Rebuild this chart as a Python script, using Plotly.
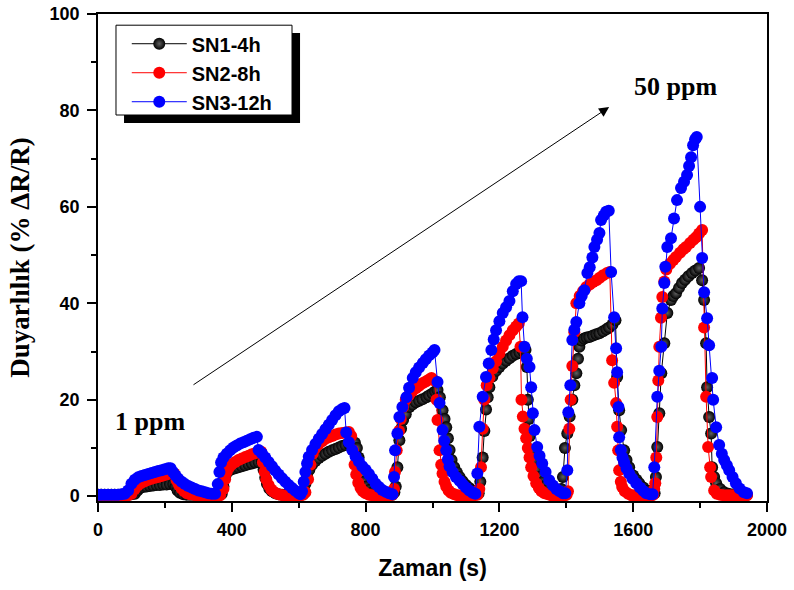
import plotly.graph_objects as go

# Gas-sensor response (% ΔR/R) versus time for three samples, seven exposure pulses
# Each entry: (time in s, response in %)
sn1_points = [
    (0, 0.3), (10, 0.3), (20, 0.3), (30, 0.3), (40, 0.3), (50, 0.3), (60, 0.3), (70, 0.3), (80, 0.3), (90, 0.3), (100, 0.4),
    (110, 0.5), (118, 1.2), (125, 1.7), (135, 1.9), (145, 2.0), (155, 2.1), (165, 2.2), (175, 2.3), (185, 2.3), (195, 2.4),
    (205, 2.4), (215, 2.5), (225, 2.5), (232, 2.0), (238, 1.2), (245, 0.7), (255, 0.4), (265, 0.3), (275, 0.3), (285, 0.3),
    (295, 0.3), (305, 0.3), (315, 0.3), (325, 0.3), (335, 0.3), (345, 0.3), (355, 0.3), (363, 0.3),
    (370, 0.5), (375, 2.0), (380, 3.8), (385, 4.8), (392, 5.3), (400, 5.6), (410, 5.8), (420, 6.0), (430, 6.2), (440, 6.4),
    (450, 6.6), (460, 6.8), (470, 7.0), (480, 7.1), (490, 7.2), (495, 5.5), (500, 3.8), (505, 2.6), (512, 1.6), (520, 1.0),
    (530, 0.6), (540, 0.4), (550, 0.3), (560, 0.3), (570, 0.3), (580, 0.3), (590, 0.3), (600, 0.3), (608, 0.3),
    (615, 0.5), (620, 2.5), (625, 4.2), (632, 5.5), (640, 6.5), (650, 7.3), (660, 7.9), (670, 8.4), (680, 8.8), (690, 9.2),
    (700, 9.5), (710, 9.8), (720, 10.1), (730, 10.4), (740, 10.6), (750, 10.8), (760, 11.0), (768, 11.1), (774, 10.0),
    (779, 8.0), (784, 6.0), (789, 4.3), (795, 3.0), (802, 2.0), (810, 1.3), (820, 0.8), (830, 0.5), (840, 0.3), (850, 0.3),
    (860, 0.3), (870, 0.3), (880, 0.3),
    (886, 0.8), (890, 2.0), (895, 6.0), (901, 11.6), (906, 14.0), (912, 15.8), (920, 17.0), (931, 18.5), (940, 19.0),
    (950, 19.5), (960, 19.8), (970, 20.1), (982, 20.5), (990, 20.9), (1000, 21.3), (1008, 21.7), (1015, 22.0), (1022, 20.5),
    (1030, 17.8), (1036, 16.0), (1041, 14.3), (1046, 12.0), (1051, 9.6), (1057, 7.5), (1065, 6.0), (1073, 4.9), (1081, 4.0),
    (1090, 3.1), (1100, 2.3), (1110, 1.7), (1120, 1.2), (1131, 0.8), (1138, 0.6),
    (1143, 3.0), (1150, 8.0), (1155, 13.5), (1160, 18.0), (1165, 20.5), (1170, 22.6), (1179, 24.8), (1190, 26.0),
    (1200, 26.8), (1210, 27.5), (1220, 28.1), (1230, 28.6), (1240, 29.1), (1250, 29.5), (1260, 29.8), (1270, 30.1),
    (1278, 30.3), (1282, 26.8), (1285, 20.0), (1288, 16.0), (1291, 12.5), (1296, 9.5), (1301, 7.5), (1310, 5.6),
    (1319, 4.0), (1330, 3.0), (1340, 2.3), (1350, 1.8), (1360, 1.5), (1370, 1.2), (1379, 1.0), (1385, 1.5),
    (1390, 4.0), (1396, 10.0), (1403, 13.0), (1410, 16.5), (1418, 20.0), (1424, 23.0), (1430, 25.5), (1435, 28.5),
    (1439, 31.0), (1445, 32.3), (1453, 32.7), (1461, 32.9), (1469, 33.0), (1480, 33.3), (1490, 33.6), (1499, 33.8),
    (1510, 34.2), (1520, 34.6), (1528, 35.0), (1538, 35.6), (1547, 36.5), (1552, 24.7), (1558, 17.8), (1564, 13.7),
    (1573, 9.5), (1580, 7.5), (1588, 6.0), (1600, 4.3), (1610, 3.4), (1618, 2.7), (1630, 1.8), (1645, 1.1), (1657, 0.8),
    (1664, 0.6),
    (1668, 4.0), (1672, 10.2), (1678, 17.2), (1684, 25.5), (1693, 31.7), (1702, 38.0), (1713, 40.7), (1720, 41.5),
    (1728, 42.1), (1737, 43.2), (1746, 44.2), (1755, 44.9), (1765, 45.6), (1776, 46.3), (1786, 46.8), (1797, 47.3),
    (1806, 44.8), (1812, 40.7), (1818, 31.7), (1821, 22.6), (1827, 16.4), (1833, 13.0), (1836, 6.0), (1842, 4.0),
    (1848, 2.7), (1860, 1.5), (1872, 0.8), (1885, 0.5), (1900, 0.4), (1915, 0.3), (1930, 0.3), (1940, 0.3),
]

sn2_points = [
    (0, 0.2), (10, 0.2), (20, 0.2), (30, 0.2), (40, 0.2), (50, 0.2), (60, 0.2), (70, 0.2), (80, 0.2), (90, 0.2), (100, 0.5),
    (110, 1.5), (120, 2.3), (130, 2.8), (140, 3.1), (150, 3.4), (160, 3.6), (170, 3.8), (180, 4.0), (190, 4.2), (200, 4.4),
    (210, 4.6), (220, 4.8), (228, 4.7), (235, 3.3), (242, 2.3), (250, 1.6), (258, 1.0), (266, 0.6), (275, 0.4), (285, 0.3),
    (295, 0.2), (305, 0.2), (315, 0.2), (325, 0.2), (335, 0.2), (345, 0.2), (355, 0.2), (365, 0.2),
    (375, 1.5), (380, 3.5), (385, 5.0), (392, 6.0), (400, 6.6), (410, 7.1), (420, 7.5), (430, 7.8), (440, 8.1), (450, 8.4),
    (460, 8.7), (470, 8.9), (480, 9.1), (488, 9.2), (493, 7.0), (498, 5.0), (503, 3.5), (510, 2.3), (518, 1.4), (525, 0.9),
    (535, 0.5), (545, 0.3), (555, 0.2), (565, 0.2), (575, 0.2), (585, 0.2), (595, 0.2), (605, 0.2), (613, 0.3),
    (620, 0.8), (628, 3.5), (635, 6.5), (642, 8.8), (650, 10.0), (660, 10.8), (670, 11.4), (680, 11.9), (690, 12.2),
    (700, 12.5), (710, 12.8), (720, 13.0), (730, 13.1), (740, 13.2), (750, 13.3), (757, 12.5), (762, 9.5), (767, 6.5),
    (772, 4.5), (778, 2.8), (785, 1.7), (792, 1.0), (800, 0.6), (810, 0.3), (820, 0.2), (830, 0.2), (840, 0.2), (850, 0.2),
    (860, 0.2), (870, 0.2), (880, 0.3),
    (885, 1.5), (888, 5.0), (893, 9.5), (900, 13.5), (905, 16.0), (912, 18.5), (920, 20.0), (930, 21.0), (940, 21.8),
    (950, 22.4), (960, 22.9), (970, 23.4), (980, 23.8), (990, 24.2), (997, 24.5), (1005, 24.0), (1012, 20.0), (1015, 15.8),
    (1021, 9.5), (1026, 6.5), (1030, 4.7), (1036, 3.0), (1041, 2.0), (1048, 1.2), (1055, 0.7), (1065, 0.4), (1075, 0.2),
    (1085, 0.2), (1095, 0.2), (1105, 0.2), (1115, 0.2), (1125, 0.2), (1135, 0.3),
    (1140, 1.5), (1145, 6.0), (1150, 14.0), (1155, 20.0), (1162, 23.0), (1170, 24.5), (1180, 26.5), (1190, 28.0),
    (1200, 29.6), (1210, 31.0), (1220, 32.3), (1230, 33.4), (1240, 34.4), (1250, 35.2), (1258, 35.8), (1263, 31.0),
    (1266, 20.0), (1270, 16.5), (1275, 14.0), (1280, 12.0), (1285, 10.0), (1290, 8.0), (1295, 6.0), (1302, 4.2),
    (1310, 2.7), (1318, 1.7), (1326, 1.0), (1335, 0.6), (1345, 0.4), (1355, 0.2), (1365, 0.2), (1375, 0.2), (1385, 0.2),
    (1395, 0.2), (1401, 0.3),
    (1405, 1.0), (1409, 14.0), (1413, 20.0), (1418, 27.0), (1424, 34.0), (1430, 40.0), (1440, 41.5), (1450, 42.5),
    (1460, 43.4), (1470, 43.9), (1480, 44.4), (1490, 44.8), (1500, 45.3), (1510, 45.8), (1522, 46.3), (1530, 46.5),
    (1537, 28.2), (1543, 23.5), (1549, 19.3), (1552, 14.4), (1555, 9.5), (1558, 5.4), (1563, 3.0), (1567, 1.9),
    (1575, 1.0), (1585, 0.5), (1595, 0.2), (1605, 0.2), (1615, 0.2), (1625, 0.2), (1635, 0.2), (1645, 0.2), (1655, 0.2),
    (1660, 0.3),
    (1663, 1.5), (1666, 2.7), (1669, 8.0), (1672, 16.4), (1675, 24.0), (1678, 31.0), (1683, 37.0), (1687, 41.3),
    (1693, 44.5), (1699, 47.0), (1710, 48.2), (1720, 49.0), (1728, 49.6), (1740, 50.5), (1750, 51.2), (1758, 51.7),
    (1770, 52.5), (1780, 53.2), (1788, 53.7), (1797, 54.5), (1806, 55.2), (1812, 35.0), (1818, 20.6), (1824, 10.2),
    (1830, 6.0), (1833, 4.0), (1842, 1.2), (1850, 0.5), (1860, 0.3), (1870, 0.2), (1880, 0.2), (1890, 0.2), (1900, 0.2),
    (1910, 0.2), (1920, 0.2), (1930, 0.2), (1940, 0.2),
]

sn3_points = [
    (0, 0.3), (10, 0.3), (20, 0.3), (30, 0.3), (40, 0.3), (50, 0.3), (60, 0.3), (70, 0.4), (80, 0.5),
    (90, 1.2), (100, 2.6), (110, 3.4), (120, 3.9), (130, 4.2), (140, 4.4), (150, 4.6), (160, 4.8), (170, 5.0), (180, 5.2),
    (190, 5.4), (200, 5.6), (210, 5.8), (217, 5.8), (224, 5.0), (232, 4.3), (240, 3.6), (250, 3.0), (260, 2.5), (270, 2.1),
    (280, 1.8), (290, 1.5), (300, 1.2), (310, 1.0), (320, 0.8), (330, 0.6), (340, 0.5), (350, 0.5),
    (358, 2.5), (363, 5.0), (368, 7.0), (375, 8.0), (385, 8.8), (395, 9.5), (405, 10.1), (415, 10.5), (425, 10.9),
    (435, 11.2), (445, 11.5), (455, 11.8), (465, 12.1), (475, 12.3), (480, 9.6), (490, 8.9), (500, 8.0), (510, 7.1),
    (520, 6.2), (530, 5.3), (540, 4.5), (550, 3.7), (560, 3.0), (570, 2.3), (580, 1.7), (590, 1.1), (600, 0.6), (605, 0.4),
    (610, 1.0), (615, 3.0), (620, 5.0), (625, 6.8), (630, 8.2), (640, 9.6), (650, 10.8), (660, 11.9), (670, 12.9),
    (680, 13.9), (690, 14.8), (700, 15.8), (710, 16.8), (720, 17.6), (730, 18.1), (737, 18.3), (742, 13.2), (750, 11.2),
    (760, 9.6), (770, 8.3), (780, 7.2), (790, 6.2), (800, 5.5), (810, 4.6), (820, 3.6), (830, 2.6), (840, 1.9), (850, 1.3),
    (860, 0.9), (870, 0.6), (880, 0.4),
    (885, 4.0), (888, 9.5), (895, 13.0), (901, 16.4), (910, 18.5), (922, 20.5), (930, 22.5), (941, 24.5), (950, 25.7),
    (960, 26.7), (971, 27.6), (980, 28.4), (990, 29.2), (1000, 29.8), (1006, 30.3), (1015, 23.7), (1021, 19.3),
    (1030, 13.7), (1035, 11.5), (1041, 9.5), (1046, 7.6), (1051, 6.2), (1060, 5.0), (1070, 4.0), (1081, 3.2), (1090, 2.5),
    (1100, 1.8), (1110, 1.2), (1120, 0.7), (1128, 0.5),
    (1134, 4.7), (1140, 14.4), (1150, 20.6), (1160, 24.7), (1168, 27.5), (1176, 30.3), (1183, 32.5), (1190, 34.4),
    (1200, 36.3), (1210, 38.0), (1220, 39.2), (1230, 40.5), (1240, 42.5), (1250, 44.0), (1258, 44.6), (1265, 44.6),
    (1269, 37.1), (1275, 31.0), (1282, 28.5), (1290, 26.8), (1295, 22.6), (1300, 17.2), (1305, 13.7), (1313, 10.2),
    (1320, 8.4), (1328, 6.8), (1338, 5.0), (1349, 3.3), (1360, 2.2), (1370, 1.5), (1380, 1.0), (1390, 0.6), (1397, 0.6),
    (1403, 5.4), (1406, 17.4), (1412, 23.0), (1418, 32.4), (1424, 34.5), (1430, 36.1), (1439, 40.0), (1446, 41.5),
    (1454, 42.7), (1463, 46.3), (1470, 47.5), (1478, 49.5), (1484, 51.7), (1492, 53.2), (1499, 54.6), (1504, 57.3),
    (1512, 58.2), (1519, 59.0), (1527, 59.2), (1534, 46.5), (1543, 37.1), (1549, 30.7), (1552, 25.7), (1556, 18.5),
    (1558, 12.2), (1563, 9.6), (1568, 8.0), (1573, 7.0), (1580, 5.8), (1588, 4.7), (1598, 3.6), (1609, 2.7), (1620, 1.8),
    (1630, 1.1), (1639, 0.6), (1650, 0.4), (1658, 0.4),
    (1663, 6.0), (1672, 20.6), (1678, 26.0), (1684, 31.0), (1687, 38.9), (1693, 44.2), (1696, 47.6), (1702, 51.7),
    (1713, 53.5), (1722, 57.6), (1731, 61.4), (1743, 63.9), (1752, 65.2), (1761, 66.6), (1767, 68.5), (1773, 70.3),
    (1779, 72.8), (1785, 74.0), (1790, 74.5), (1800, 60.0), (1806, 49.4), (1812, 42.3), (1821, 36.9), (1827, 31.3),
    (1836, 24.5), (1839, 20.0), (1848, 14.3), (1857, 10.6), (1865, 8.8), (1872, 7.5), (1880, 6.4), (1887, 5.4),
    (1897, 4.0), (1907, 2.7), (1918, 1.6), (1931, 0.8), (1940, 0.6),
]

series_names = ["SN1-4h", "SN2-8h", "SN3-12h"]
series_colors = ["#000000", "#ff0000", "#0000ff"]

x_tick_values = [0, 400, 800, 1200, 1600, 2000]
y_tick_values = [0, 20, 40, 60, 80, 100]

fig = go.Figure()

for name, pts, color in zip(series_names, [sn1_points, sn2_points, sn3_points], series_colors):
    t = [p[0] for p in pts]
    v = [p[1] for p in pts]
    marker = dict(size=12, color=color, line=dict(width=0))
    if name == "SN1-4h":
        # shaded black spheres
        marker["gradient"] = dict(type="radial", color="#606060")
    fig.add_trace(go.Scatter(
        x=t, y=v, mode="lines+markers", name=name,
        line=dict(color=color, width=1),
        marker=marker,
    ))

sans = "Arial, Liberation Sans, sans-serif"
serif = "Times New Roman, Liberation Serif, serif"
axis_font = dict(family=sans, size=18, color="black", weight="bold")

fig.update_xaxes(
    range=[0, 2000], tickmode="array", tickvals=x_tick_values,
    ticks="outside", ticklen=9, tickwidth=1.5, tickcolor="black", ticklabelstandoff=3,
    minor=dict(dtick=200, ticks="outside", ticklen=5, tickwidth=1.5, tickcolor="black"),
    showline=True, linecolor="black", linewidth=1.5, mirror=True,
    showgrid=False, zeroline=False, tickfont=axis_font,
    title=dict(text="Zaman (s)", standoff=21,
               font=dict(family=sans, size=23, color="black", weight="bold")),
)
fig.update_yaxes(
    range=[-1, 100], tickmode="array", tickvals=y_tick_values,
    ticks="outside", ticklen=9, tickwidth=1.5, tickcolor="black", ticklabelstandoff=4,
    minor=dict(dtick=10, ticks="outside", ticklen=5, tickwidth=1.5, tickcolor="black"),
    showline=True, linecolor="black", linewidth=1.5, mirror=True,
    showgrid=False, zeroline=False, tickfont=axis_font,
    title=dict(text="Duyarlılık (% ΔR/R)", standoff=12,
               font=dict(family=serif, size=27, color="black", weight="bold")),
)

label_font = dict(family=serif, size=26, color="black", weight="bold")

fig.update_layout(
    width=794, height=590,
    margin=dict(l=98, r=27, t=14, b=89, autoexpand=False),
    paper_bgcolor="white", plot_bgcolor="white",
    showlegend=True,
    legend=dict(
        x=0.043, y=0.979, xanchor="left", yanchor="top",
        bgcolor="rgba(0,0,0,0)", borderwidth=0,
        itemwidth=55,
        font=dict(family=sans, size=20, color="black", weight="bold"),
        tracegroupgap=0,
    ),
    shapes=[
        # legend drop shadow and frame
        dict(type="rect", xref="paper", yref="paper", x0=0.0389, x1=0.302, y0=0.776, y1=0.961,
             fillcolor="black", line=dict(width=0), layer="above"),
        dict(type="rect", xref="paper", yref="paper", x0=0.0269, x1=0.290, y0=0.7926, y1=0.977,
             fillcolor="white", line=dict(color="black", width=1), layer="above"),
    ],
    annotations=[
        dict(x=155, y=15.4, xref="x", yref="y", text="1 ppm", showarrow=False, font=label_font),
        dict(x=1725, y=84.9, xref="x", yref="y", text="50 ppm", showarrow=False, font=label_font),
        dict(x=1528, y=80.7, ax=281, ay=22.9, xref="x", yref="y", axref="x", ayref="y",
             text="", showarrow=True, arrowhead=2, arrowsize=2, arrowwidth=1, arrowcolor="black"),
    ],
)

fig.write_html("out.html")
